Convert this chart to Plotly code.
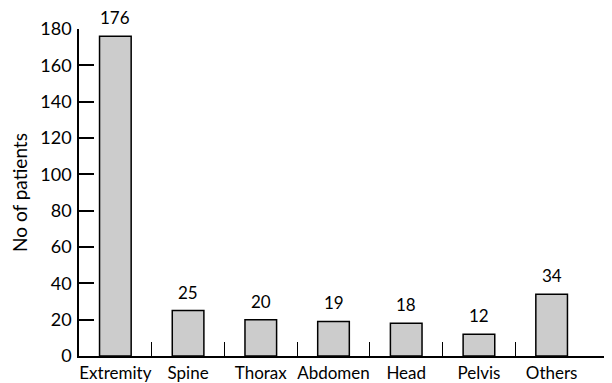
import plotly.graph_objects as go

categories = ["Extremity", "Spine", "Thorax", "Abdomen", "Head", "Pelvis", "Others"]
patients = [176, 25, 20, 19, 18, 12, 34]
y_ticks = [0, 20, 40, 60, 80, 100, 120, 140, 160, 180]

n = len(categories)
xpos = list(range(n))
FONT = "Lato"
FS = 17

fig = go.Figure()
fig.add_trace(go.Bar(
    x=xpos, y=patients,
    marker=dict(color="#cccccc", line=dict(color="black", width=1.5)),
    cliponaxis=False, width=0.435,
))

for xi, v in zip(xpos, patients):
    fig.add_annotation(x=xi, y=v, text=str(v), showarrow=False,
                       yanchor="bottom", yshift=6,
                       font=dict(family=FONT, size=FS, color="black"))

# page body has an 8px margin; compensate so plot sits where the reference has it
fig.update_layout(
    width=612, height=383,
    margin=dict(l=71, r=8, t=21, b=32),
    paper_bgcolor="white", plot_bgcolor="white",
    showlegend=False,
    font=dict(family=FONT, size=FS, color="black"),
    xaxis=dict(
        range=[-0.5, n - 0.5 + 0.33],
        tickmode="array", tickvals=xpos, ticktext=categories,
        ticks="", showgrid=False, zeroline=False,
        showline=True, linecolor="black", linewidth=1.5,
        tickfont=dict(family=FONT, size=FS, color="black"),
        ticklabelstandoff=1,
        minor=dict(tickmode="array", tickvals=[i + 0.5 for i in range(n - 1)],
                   ticks="inside", ticklen=14, tickwidth=1.2, tickcolor="black",
                   showgrid=False),
    ),
    yaxis=dict(
        range=[0, 180],
        tickmode="array", tickvals=y_ticks,
        ticks="inside", ticklen=15, tickwidth=1.5, tickcolor="black",
        showgrid=False, zeroline=False,
        showline=True, linecolor="black", linewidth=1.5,
        tickfont=dict(family=FONT, size=18, color="black"),
        ticklabelstandoff=2,
        title=dict(text="No of patients", font=dict(family=FONT, size=19, color="black"), standoff=10),
    ),
)

fig.write_html("out.html")
